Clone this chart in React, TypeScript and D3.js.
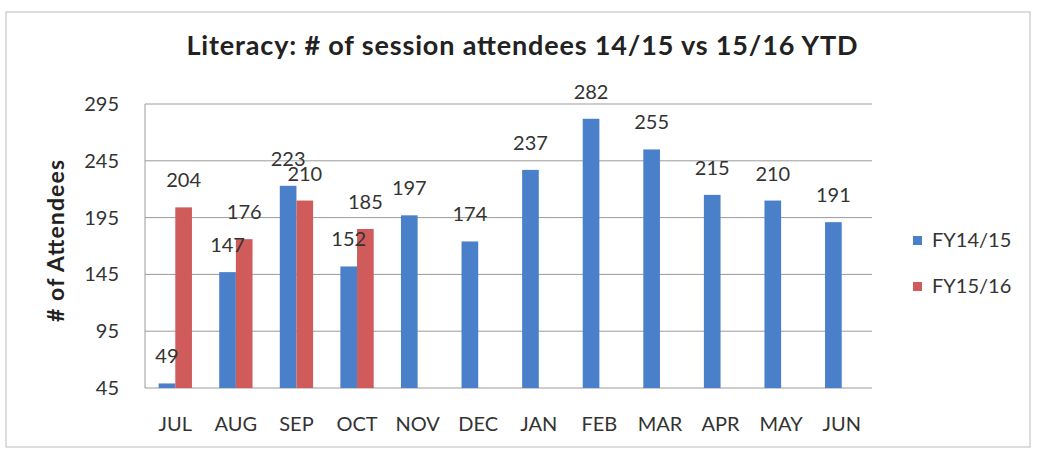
import React from "react";
import * as d3 from "d3";

const months = ["JUL", "AUG", "SEP", "OCT", "NOV", "DEC", "JAN", "FEB", "MAR", "APR", "MAY", "JUN"];
const fy1415 = [49, 147, 223, 152, 197, 174, 237, 282, 255, 215, 210, 191];
const fy1516 = [204, 176, 210, 185];
const seriesNames = ["FY14/15", "FY15/16"];
const yTicks = [45, 95, 145, 195, 245, 295];
const colors = ["#4a80c9", "#cf5b5b"];

const W = 1037, H = 455;
const M = { left: 145, right: 872, top: 104, bottom: 388 };
const FONT = "Lato, 'Open Sans', sans-serif";

export default function App() {
  const x = d3.scaleBand<string>().domain(months).range([M.left, M.right]).paddingInner(0.45).paddingOuter(0.225);
  const xs = d3.scaleBand<string>().domain(seriesNames).range([0, x.bandwidth()]);
  const y = d3.scaleLinear().domain([45, 295]).range([M.bottom, M.top]);
  const series = [fy1415, fy1516];
  const bw = xs.bandwidth();
  const bx = (si: number, i: number) => (x(months[i]) as number) + (xs(seriesNames[si]) as number);

  return (
    <svg width={W} height={H} style={{ position: "absolute", left: 0, top: 0, background: "#fff" }}>
      <rect x={6} y={12} width={1024} height={435} fill="#fff" stroke="#bbb" strokeWidth={1} />
      <text x={522} y={55} textAnchor="middle" fontFamily={FONT} fontWeight="bold" fontSize={27} fill="#222"
        textLength={671} lengthAdjust="spacing">
        Literacy: # of session attendees 14/15 vs 15/16 YTD
      </text>
      {yTicks.map((t) => (
        <g key={t}>
          <line x1={M.left} x2={M.right} y1={y(t)} y2={y(t)} stroke="#9a9a9a" strokeWidth={1} />
          <text x={119} y={y(t) + 7} textAnchor="end" fontFamily={FONT} fontSize={20} fill="#333">{t}</text>
        </g>
      ))}
      <line x1={M.left} x2={M.left} y1={M.top} y2={M.bottom} stroke="#9a9a9a" strokeWidth={1} />
      <text transform={`translate(64,241) rotate(-90)`} textAnchor="middle" fontFamily={FONT} fontWeight="bold" fontSize={23} fill="#222"
        textLength={162} lengthAdjust="spacing">
        # of Attendees
      </text>
      {series.map((vals, si) =>
        vals.map((v, i) => (
          <rect key={`b${si}-${i}`} x={bx(si, i)} y={y(v)} width={bw} height={M.bottom - y(v)} fill={colors[si]} />
        ))
      )}
      {series.map((vals, si) =>
        vals.map((v, i) => (
          <text key={`t${si}-${i}`} x={bx(si, i) + bw / 2} y={y(v) - 20} textAnchor="middle" fontFamily={FONT} fontSize={20} fill="#333">{v}</text>
        ))
      )}
      {months.map((m) => (
        <text key={m} x={(x(m) as number) + x.bandwidth() / 2} y={431} textAnchor="middle" fontFamily={FONT} fontSize={20} fill="#333">{m}</text>
      ))}
      {seriesNames.map((s, i) => (
        <g key={s}>
          <rect x={913} y={236 + i * 46} width={9} height={9} fill={colors[i]} />
          <text x={932} y={247 + i * 46} fontFamily={FONT} fontSize={20} fill="#333">{s}</text>
        </g>
      ))}
    </svg>
  );
}
